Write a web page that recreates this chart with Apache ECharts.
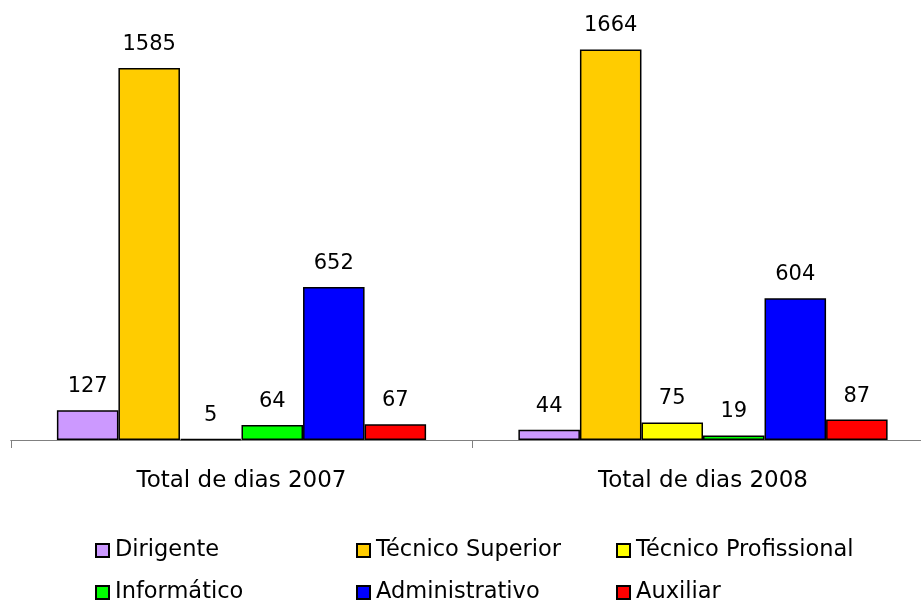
<!DOCTYPE html>
<html>
<head>
<meta charset="utf-8">
<script src="https://cdn.jsdelivr.net/npm/echarts@6/dist/echarts.min.js"></script>
<style>
  html, body { margin: 0; padding: 0; background: #fff; overflow: hidden; }
  /* plot runs a little past the right edge, like the original */
  #main { width: 935px; height: 601px; }
</style>
</head>
<body>
<div id="main"></div>
<script>
var categories = ['Total de dias 2007', 'Total de dias 2008'];
var seriesNames = ['Dirigente', 'Técnico Superior', 'Técnico Profissional', 'Informático', 'Administrativo', 'Auxiliar'];
var dirigente = [127, 44];
var tecSuperior = [1585, 1664];
var tecProfissional = [5, 75];
var informatico = [64, 19];
var administrativo = [652, 604];
var auxiliar = [67, 87];
var colors = ['#CC99FF', '#FFCC00', '#FFFF00', '#00FF00', '#0000FF', '#FF0000'];

var font = 'DejaVu Sans';
var values = [dirigente, tecSuperior, tecProfissional, informatico, administrativo, auxiliar];

var series = [];
for (var i = 0; i < seriesNames.length; i++) {
  series.push({
    name: seriesNames[i],
    type: 'bar',
    data: values[i],
    barGap: '0%',
    barCategoryGap: '20%',
    itemStyle: { color: colors[i], borderColor: '#000', borderWidth: 1.5 },
    label: {
      show: true,
      position: 'top',
      distance: 13,
      fontFamily: font,
      fontSize: 21,
      color: '#000'
    }
  });
}

// one legend per column, two rows each
function legendCol(left, names) {
  return {
    orient: 'vertical',
    left: left,
    top: 534,
    height: 90,
    itemWidth: 13,
    itemHeight: 13,
    itemGap: 19,
    icon: 'rect',
    data: names,
    textStyle: { fontFamily: font, fontSize: 22.5, color: '#000', padding: [0, 0, 0, 1] }
  };
}

var chart = echarts.init(document.getElementById('main'));
chart.setOption({
  animation: false,
  backgroundColor: '#fff',
  grid: { left: 10.75, right: 1.25, top: 17.5, bottom: 161, containLabel: false },
  legend: [
    legendCol(90, [seriesNames[0], seriesNames[3]]),
    legendCol(351, [seriesNames[1], seriesNames[4]]),
    legendCol(611, [seriesNames[2], seriesNames[5]])
  ],
  xAxis: {
    type: 'category',
    data: categories,
    axisLine: { lineStyle: { color: '#808080', width: 1 } },
    axisTick: { show: true, length: 8, lineStyle: { color: '#808080' } },
    axisLabel: { margin: 30, fontFamily: font, fontSize: 23, color: '#000' }
  },
  yAxis: {
    type: 'value',
    min: 0,
    max: 1800,
    show: false,
    splitLine: { show: false }
  },
  series: series
});
</script>
</body>
</html>
